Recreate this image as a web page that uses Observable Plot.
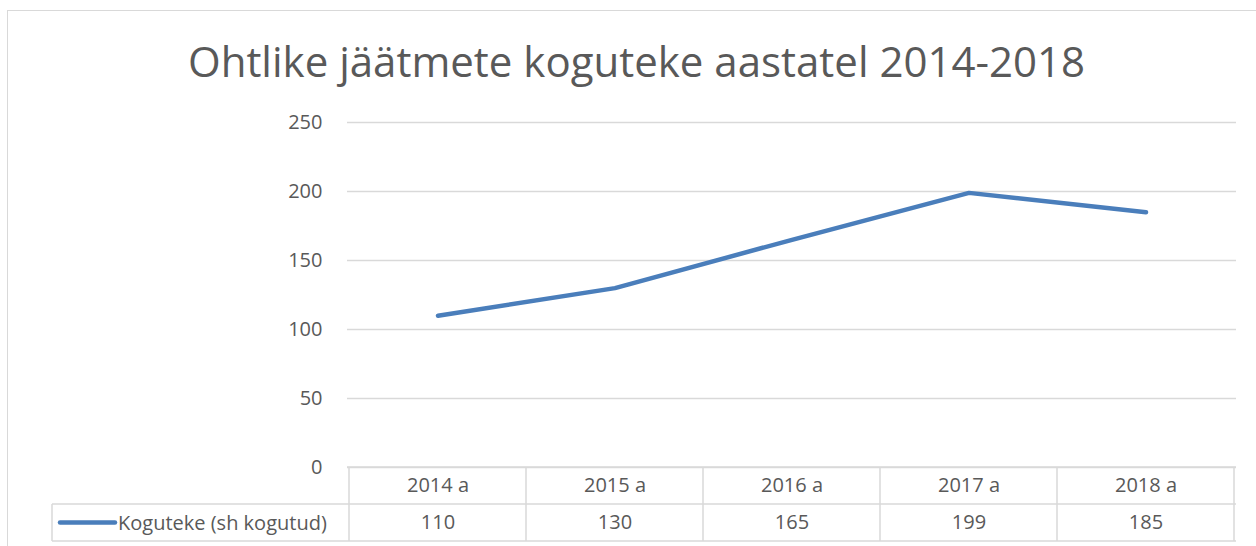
<!DOCTYPE html>
<html><head><meta charset="utf-8">
<script src="https://cdn.jsdelivr.net/npm/d3@7"></script>
<script src="https://cdn.jsdelivr.net/npm/@observablehq/plot@0.6"></script>
<style>
body{margin:0;background:#fff;font-family:"Open Sans",sans-serif;}
#wrap{position:relative;width:1256px;height:546px;overflow:hidden;}
#frame{position:absolute;left:7px;top:10px;width:1300px;height:600px;border-top:1px solid #d9d9d9;border-left:1px solid #d9d9d9;pointer-events:none;}
#title{box-sizing:border-box;height:100px;padding-top:40px;padding-left:17px;text-align:center;font-size:42px;line-height:42px;color:#595959;white-space:nowrap;}
#chart svg{display:block;}
</style>
</head><body>
<div id="wrap">
<div id="frame"></div>
<div id="title">Ohtlike jäätmete koguteke aastatel 2014-2018</div>
<div id="chart"></div>
</div>
<script>
const years = ["2014 a", "2015 a", "2016 a", "2017 a", "2018 a"];
const values = [110, 130, 165, 199, 185];
const seriesName = "Koguteke (sh kogutud)";
const yTicks = [0, 50, 100, 150, 200, 250];

const lineColor = "#4a7ebb";
const textColor = "#595959";
const gridColor = "#d9d9d9";
const rows = years.map((y, i) => ({year: y, value: values[i]}));

function tableMark(index, scales, channels, dims) {
  const x = scales.x;
  const bw = x.bandwidth();
  const top = dims.height - dims.marginBottom;
  const rowH = 37;
  const leftCell = 52;
  const plotLeft = dims.marginLeft;
  const right = dims.width - dims.marginRight;
  const g = d3.create("svg:g");
  const lines = g.append("g").attr("stroke", gridColor).attr("stroke-width", 1.5).attr("fill", "none");
  lines.append("line").attr("x1", plotLeft).attr("x2", right).attr("y1", top).attr("y2", top);
  lines.append("line").attr("x1", leftCell).attr("x2", right).attr("y1", top + rowH).attr("y2", top + rowH);
  lines.append("line").attr("x1", leftCell).attr("x2", right).attr("y1", top + 2 * rowH).attr("y2", top + 2 * rowH);
  lines.append("line").attr("x1", leftCell).attr("x2", leftCell).attr("y1", top + rowH).attr("y2", top + 2 * rowH);
  const edges = years.map(d => x(d)).concat([x(years[years.length - 1]) + bw]);
  for (const e of edges) {
    lines.append("line").attr("x1", e).attr("x2", e).attr("y1", top).attr("y2", top + 2 * rowH);
  }
  const cy = top + rowH * 1.5;
  g.append("line").attr("x1", 60).attr("x2", 115).attr("y1", cy).attr("y2", cy)
    .attr("stroke", lineColor).attr("stroke-width", 4.5).attr("stroke-linecap", "round");
  g.append("text").attr("x", 118).attr("y", cy).attr("dy", "0.35em")
    .attr("text-anchor", "start")
    .attr("fill", textColor).attr("font-size", 20).attr("font-family", "Open Sans, sans-serif")
    .text(seriesName);
  return g.node();
}

const chart = Plot.plot({
  width: 1256,
  height: 446,
  marginLeft: 347,
  marginRight: 20,
  marginTop: 22,
  marginBottom: 79,
  style: {fontFamily: "Open Sans, sans-serif", color: textColor, background: "white"},
  x: {type: "band", domain: years, padding: 0, axis: null},
  y: {domain: [0, 250], ticks: yTicks, label: null},
  marks: [
    Plot.gridY(yTicks, {stroke: gridColor, strokeOpacity: 1, strokeWidth: 1.5}),
    Plot.axisY(yTicks, {tickSize: 0, tickPadding: 25, fontSize: 20, label: null, fill: textColor}),
    tableMark,
    Plot.line(rows, {x: "year", y: "value", stroke: lineColor, strokeWidth: 4.5, strokeLinejoin: "round", strokeLinecap: "round"}),
    Plot.text(rows, {x: "year", text: "year", frameAnchor: "bottom", dy: 18.5, lineAnchor: "middle", fontSize: 20, fill: textColor}),
    Plot.text(rows, {x: "year", text: d => String(d.value), frameAnchor: "bottom", dy: 55.5, lineAnchor: "middle", fontSize: 20, fill: textColor})
  ]
});
document.getElementById("chart").appendChild(chart);
</script>
</body></html>
